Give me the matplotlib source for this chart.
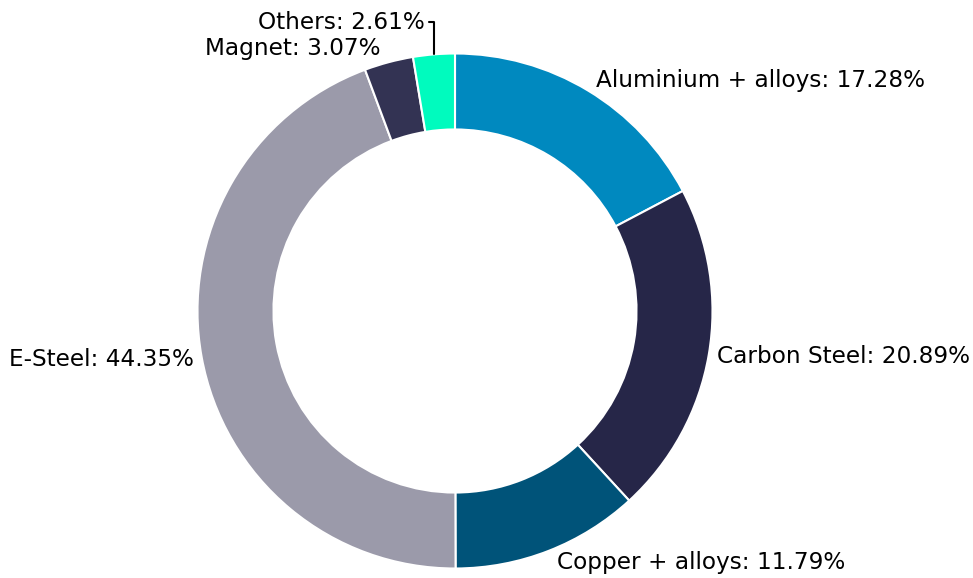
import numpy as np
import matplotlib
matplotlib.use("Agg")
import matplotlib.pyplot as plt

materials = ["Aluminium + alloys", "Carbon Steel", "Copper + alloys",
             "E-Steel", "Magnet", "Others"]
shares = [17.28, 20.89, 11.79, 44.35, 3.07, 2.61]
colors = ["#0089BF", "#262648", "#005379", "#9B9AAA", "#333353", "#00FBBE"]

fig = plt.figure(figsize=(9.73, 5.78), dpi=100, facecolor="w")
# square axes so that radius 1 == 257.5 px, centred at (455, 311) px
ax = fig.add_axes([197.5 / 973, (578 - 568.5) / 578, 515 / 973, 515 / 578])

wedges, _ = ax.pie(shares, colors=colors, startangle=90, counterclock=False,
                   radius=1.0, wedgeprops=dict(width=0.295, edgecolor="w", linewidth=1.5))
ax.set_xlim(-1, 1)
ax.set_ylim(-1, 1)
ax.set_aspect("equal")
ax.axis("off")

# extra nudges (pixels) for the crowded small slices
nudges = {"Magnet": (-8, 14), "Others": (-9, 32)}

for w, name, val in zip(wedges, materials, shares):
    ang = np.deg2rad((w.theta1 + w.theta2) / 2)
    x, y = np.cos(ang), np.sin(ang)
    ha = "left" if x > 0 else "right"
    if name in nudges:
        dx, dy = nudges[name]
    else:
        dx, dy = (8 if x > 0 else -8), 12 * y
    label = f"{name}: {val:.2f}%"
    if name == "Others":
        ax.annotate(label, xy=(x, y), xytext=(dx, dy), textcoords="offset pixels",
                    ha=ha, va="center", fontsize=16.7, annotation_clip=False,
                    arrowprops=dict(arrowstyle="-", color="black", lw=1.5,
                                    shrinkA=1, shrinkB=0,
                                    connectionstyle="angle,angleA=0,angleB=90,rad=0"))
    else:
        ax.annotate(label, xy=(x, y), xytext=(dx, dy), textcoords="offset pixels",
                    ha=ha, va="center", fontsize=16.7, annotation_clip=False)

fig.savefig("out.png", dpi=100)
